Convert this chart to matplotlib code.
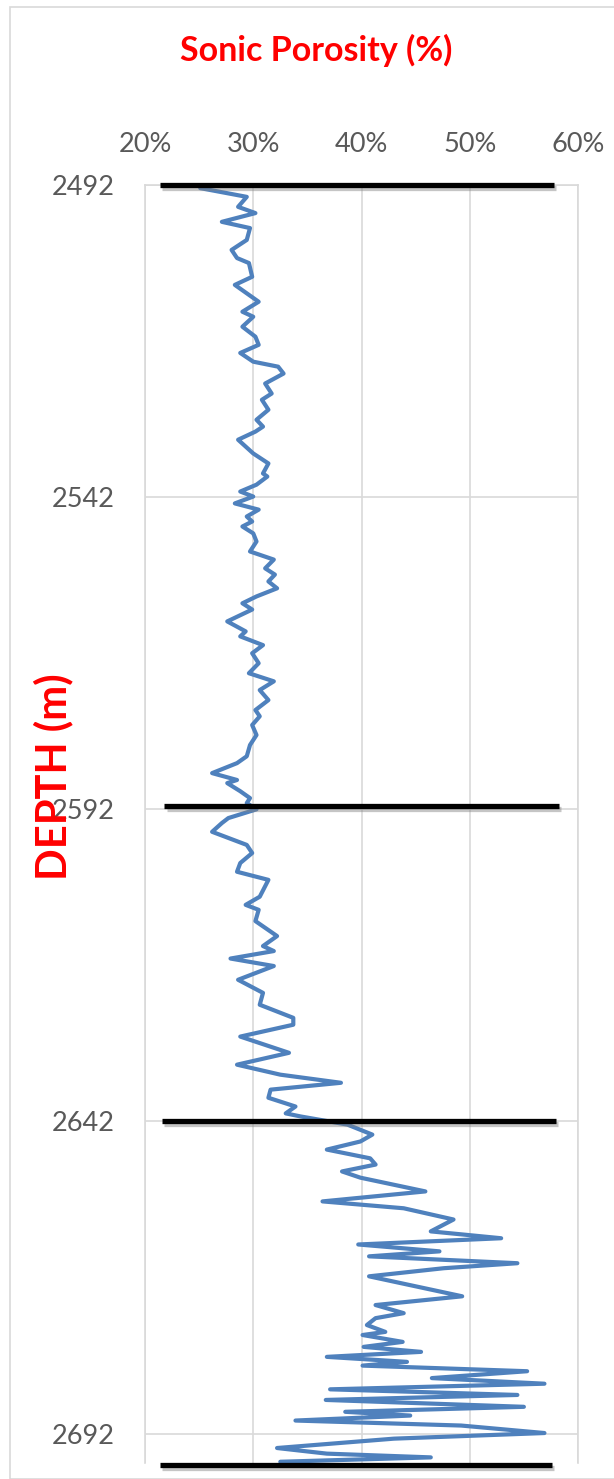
import matplotlib
matplotlib.use("Agg")
import matplotlib.pyplot as plt
import matplotlib.patheffects as pe
from matplotlib.patches import Rectangle

# ---- data ----
depth = [2492.5, 2493.9, 2495.5, 2496.5, 2497.9, 2498.9, 2500.8, 2502.4, 2503.7, 2504.5,
         2506.7, 2508.0, 2510.7, 2512.3, 2513.1, 2514.7, 2516.3, 2517.6, 2518.9, 2520.3,
         2521.1, 2522.2, 2523.8, 2525.4, 2526.4, 2528.0, 2529.6, 2530.7, 2531.5, 2532.8,
         2535.0, 2536.6, 2538.2, 2538.7, 2540.0, 2541.1, 2541.9, 2543.0, 2544.0, 2545.1,
         2545.9, 2546.7, 2547.8, 2549.1, 2550.7, 2552.0, 2553.4, 2554.4, 2555.5, 2556.6,
         2557.9, 2559.0, 2560.0, 2561.9, 2563.5, 2564.3, 2565.7, 2567.0, 2568.6, 2570.2,
         2571.5, 2572.9, 2574.5, 2576.1, 2577.1, 2578.5, 2580.1, 2581.7, 2583.5, 2584.6,
         2586.2, 2587.3, 2587.8, 2589.1, 2590.2, 2591.0, 2592.0, 2593.4, 2594.2, 2595.6,
         2597.7, 2599.0, 2600.6, 2602.0, 2603.3, 2606.0, 2607.3, 2608.1, 2609.9, 2612.3,
         2613.9, 2614.7, 2615.9, 2617.1, 2619.3, 2621.4, 2623.3, 2625.4, 2626.5, 2628.4,
         2631.0, 2632.9, 2634.5, 2635.8, 2636.9, 2638.2, 2639.6, 2640.7, 2641.2, 2642.5,
         2644.1, 2645.2, 2646.5, 2647.9, 2648.9, 2650.0, 2651.0, 2653.2, 2654.8, 2655.9,
         2657.7, 2659.6, 2660.7, 2661.7, 2662.8, 2663.6, 2664.7, 2665.5, 2666.8, 2670.0,
         2671.4, 2672.7, 2673.5, 2674.6, 2675.7, 2676.2, 2677.3, 2678.1, 2678.9, 2679.7,
         2680.5, 2681.1, 2682.0, 2683.1, 2684.0, 2684.9, 2685.8, 2686.6, 2687.7, 2688.5,
         2689.1, 2689.9, 2690.7, 2691.9, 2692.8, 2694.3, 2695.2, 2695.8, 2696.5]
porosity = [25.1, 29.4, 28.6, 30.2, 27.1, 29.7, 29.4, 28.0, 28.5, 29.6,
            29.9, 28.3, 30.5, 29.0, 30.0, 29.0, 30.2, 30.5, 28.8, 30.0,
            32.3, 32.8, 31.1, 31.7, 30.8, 31.4, 30.3, 30.9, 30.2, 28.6,
            30.0, 31.4, 30.9, 31.3, 30.3, 28.8, 30.0, 28.3, 30.5, 29.4,
            29.9, 29.0, 30.0, 30.3, 29.7, 31.9, 31.1, 32.0, 31.4, 32.2,
            30.3, 29.0, 29.9, 27.6, 29.3, 28.8, 30.9, 29.9, 30.5, 29.6,
            31.9, 30.6, 31.4, 30.2, 30.6, 29.9, 30.3, 29.7, 29.4, 28.5,
            26.2, 28.5, 27.6, 28.8, 29.7, 29.4, 30.3, 27.7, 27.1, 26.2,
            29.4, 29.9, 28.8, 28.5, 31.4, 30.6, 29.3, 30.5, 30.2, 32.2,
            30.9, 31.9, 27.9, 31.9, 28.6, 30.9, 30.6, 33.7, 33.7, 28.8,
            33.3, 28.5, 32.5, 38.1, 31.6, 31.4, 33.9, 33.0, 34.4, 38.7,
            41.0, 39.9, 36.8, 40.8, 41.3, 38.2, 39.9, 45.9, 36.4, 43.9,
            48.5, 46.4, 52.9, 39.7, 47.2, 40.7, 54.4, 47.6, 40.7, 49.3,
            41.3, 43.9, 41.3, 40.5, 42.2, 40.1, 43.8, 40.2, 45.5, 36.8,
            44.2, 40.1, 55.3, 46.5, 56.9, 37.1, 54.4, 36.7, 55.0, 38.5,
            44.5, 33.9, 49.2, 56.9, 43.0, 32.2, 36.8, 46.4, 32.5]

# formation boundary markers (depth, x start %, x end %)
marker_depths = [2492, 2591.4, 2641.9, 2697]
marker_x0 = [21.4, 21.8, 21.6, 21.4]
marker_x1 = [57.8, 58.2, 58.0, 57.6]

x_ticks = [20, 30, 40, 50, 60]
x_ticklabels = ["20%", "30%", "40%", "50%", "60%"]
y_ticks = [2492, 2542, 2592, 2642, 2692]
y_ticklabels = ["2492", "2542", "2592", "2642", "2692"]

W, H = 614, 1479
fig = plt.figure(figsize=(W / 100, H / 100), dpi=100)
plt.rcParams['font.family'] = ['Lato', 'DejaVu Sans']

# outer chart border
fig.patches.append(Rectangle((10 / W, 0), 1.2, 1 - 7 / H, transform=fig.transFigure,
                             fill=False, edgecolor="#D9D9D9", linewidth=1.2, zorder=0))

ax = fig.add_axes([145 / W, 1 - 1463 / H, (578 - 145) / W, (1463 - 185) / H])
ax.set_xlim(20, 60)
ax.set_ylim(2696.7, 2492)

ax.set_xticks(x_ticks)
ax.set_xticklabels(x_ticklabels)
ax.set_yticks(y_ticks)
ax.set_yticklabels(y_ticklabels)
ax.xaxis.tick_top()
ax.tick_params(axis="both", length=0, labelsize=19.5, labelcolor="#595959")
ax.tick_params(axis="x", pad=20)
ax.tick_params(axis="y", pad=22)
ax.grid(True, color="#D9D9D9", linewidth=1.2)
ax.set_axisbelow(True)
for s in ["left", "right", "top", "bottom"]:
    ax.spines[s].set_color("#D9D9D9")
    ax.spines[s].set_linewidth(1.2)
ax.spines["bottom"].set_visible(False)

ax.plot(porosity, depth, color="#4F81BD", linewidth=3.0, solid_joinstyle="round",
        solid_capstyle="round", zorder=3)

for d, a, b in zip(marker_depths, marker_x0, marker_x1):
    ax.plot([a, b], [d, d], color="black", linewidth=3.8, solid_capstyle="butt", clip_on=False,
            zorder=4,
            path_effects=[pe.SimpleLineShadow(offset=(1.5, -2.5), shadow_color="gray", alpha=0.45),
                          pe.Normal()])

fig.text(316 / W, 1 - 50 / H, "Sonic Porosity (%)", color="#FF0000", fontsize=24.5,
         fontweight="bold", ha="center", va="center")
fig.text(53 / W, 1 - 777 / H, "DEPTH (m)", color="#FF0000", fontsize=30,
         fontweight="bold", ha="center", va="center", rotation=90)

fig.savefig("out.png", dpi=100)
